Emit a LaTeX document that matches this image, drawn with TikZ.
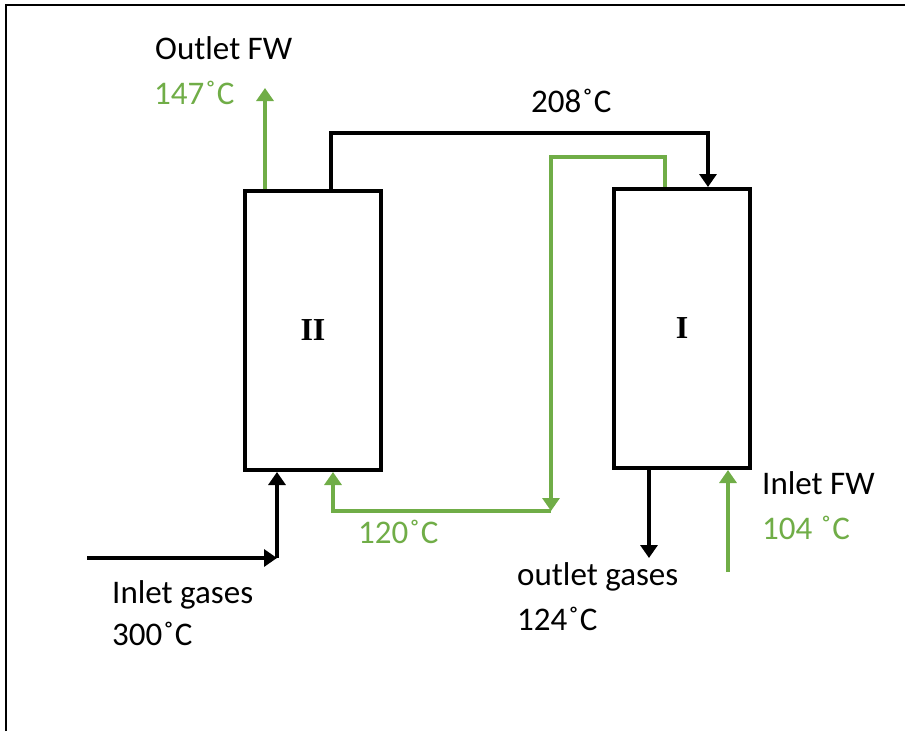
\documentclass[tikz,border=0pt]{standalone}
\usepackage{fontspec}
\setmainfont{Carlito}
\newfontfamily\romfont{Liberation Serif}
\usetikzlibrary{arrows.meta}
\definecolor{fwgreen}{RGB}{112,173,71}
\newcommand{\dg}{\kern1pt˚\kern1pt}
\begin{document}
\begin{tikzpicture}[x=1pt,y=-1pt,
  lbl/.style={anchor=base west,inner sep=0pt,font=\fontsize{33}{40}\selectfont},
  glbl/.style={lbl,text=fwgreen},
  hx/.style={draw=black,line width=4pt,minimum width=136pt,minimum height=279pt,inner sep=0pt,font=\romfont\bfseries\fontsize{32}{40}\selectfont},
  barrow/.style={draw=black,line width=4pt,-{Triangle[length=13pt,width=17pt]}},
  garrow/.style={draw=fwgreen,line width=4pt,-{Triangle[length=13pt,width=17pt]}}]
\useasboundingbox (0,0) rectangle (905,731);
\draw[line width=2.2pt] (6,731) -- (6,5) -- (905,5);
% heat exchangers
\node[hx] (II) at (313,330.5) {II};
\node[hx] (I) at (682,328.5) {I};
% free ends
\coordinate (fwout) at (265,88);
\coordinate (gmid) at (551,511);
\coordinate (gasin) at (87,558);
\coordinate (gcorner) at (277,558);
\coordinate (gasout) at (649,558);
\coordinate (fwin) at (728,572);
% outlet FW
\draw[garrow] (fwout |- II.north) -- (fwout);
% 208 line
\coordinate (a) at ([xshift=88pt]II.north west);
\coordinate (b) at ([xshift=96pt]I.north west);
\draw[barrow] (a) -- (a |- 0,133) -- (b |- 0,133) -- (b);
% green loop I -> II
\coordinate (c) at ([xshift=53pt]I.north west);
\draw[garrow] (c) -- (c |- 0,157) -- (gmid |- 0,157) -- (gmid);
\coordinate (d) at ([xshift=90pt]II.south west);
\draw[garrow] (gmid) -- (d |- gmid) -- (d);
% inlet gases
\draw[barrow] (gasin) -- (gcorner);
\draw[barrow] (gcorner) -- (gcorner |- II.south);
% outlet gases
\draw[barrow] (gasout |- I.south) -- (gasout);
% inlet FW
\draw[garrow] (fwin) -- (fwin |- I.south);
% labels
\node[lbl] (t1) at (155,59) {Outlet FW};
\node[glbl] (t2) at (154,104) {147\dg C};
\node[lbl] (t3) at (531,112) {208\dg C};
\node[glbl] (t4) at (358,543) {120\dg C};
\node[lbl] (t5) at (112,603) {Inlet gases};
\node[lbl] (t6) at (112,645) {300\dg C};
\node[lbl] (t7) at (517,585) {outlet gases};
\node[lbl] (t8) at (517,630) {124\dg C};
\node[lbl] (t9) at (762,494) {Inlet FW};
\node[glbl] (t10) at (762,539) {104 \dg C};
\end{tikzpicture}
\end{document}
